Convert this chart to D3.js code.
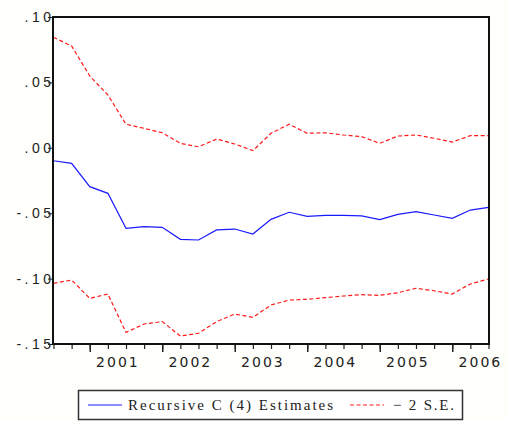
<!DOCTYPE html>
<html>
<head>
<meta charset="utf-8">
<script src="https://cdn.jsdelivr.net/npm/d3@7"></script>
<style>
  body { margin: 0; background: #fefefb; }
  svg { display: block; }
</style>
</head>
<body>
<div id="fig"></div>
<script>
// quarterly observations, 2000Q3 .. 2006Q3
var quarters = ["2000Q3","2000Q4",
  "2001Q1","2001Q2","2001Q3","2001Q4",
  "2002Q1","2002Q2","2002Q3","2002Q4",
  "2003Q1","2003Q2","2003Q3","2003Q4",
  "2004Q1","2004Q2","2004Q3","2004Q4",
  "2005Q1","2005Q2","2005Q3","2005Q4",
  "2006Q1","2006Q2","2006Q3"];

var estimate = [-0.0099, -0.0119, -0.0297, -0.0348, -0.0616, -0.0603, -0.0608, -0.0700,
  -0.0705, -0.0628, -0.0621, -0.0659, -0.0547, -0.0493, -0.0524, -0.0516, -0.0516,
  -0.0521, -0.0549, -0.0509, -0.0488, -0.0514, -0.0539, -0.0476, -0.0455];

var upper = [0.0845, 0.0778, 0.0549, 0.0404, 0.0180, 0.0149, 0.0115, 0.0034,
  0.0008, 0.0067, 0.0029, -0.0022, 0.0111, 0.0180, 0.0111, 0.0115, 0.0098,
  0.0085, 0.0034, 0.0090, 0.0098, 0.0073, 0.0044, 0.0093, 0.0093];

var lower = [-0.1036, -0.1011, -0.1151, -0.1118, -0.1411, -0.1347, -0.1329, -0.1439,
  -0.1418, -0.1329, -0.1271, -0.1296, -0.1202, -0.1164, -0.1158, -0.1146, -0.1133,
  -0.1123, -0.1128, -0.1108, -0.1074, -0.1093, -0.1118, -0.1041, -0.1003];

var yTicks = [0.10, 0.05, 0.00, -0.05, -0.10, -0.15];
var yTickLabels = [".10", ".05", ".00", "-.05", "-.10", "-.15"];
var years = ["2001", "2002", "2003", "2004", "2005", "2006"];

var width = 508, height = 421;
var plotLeft = 53, plotRight = 489, plotTop = 17, plotBottom = 344;

var svg = d3.select("#fig").append("svg")
    .attr("width", width)
    .attr("height", height)
    .attr("font-family", "DejaVu Sans, sans-serif");

var x = d3.scaleLinear()
    .domain([0, quarters.length - 1])
    .range([plotLeft + 0.5, plotRight - 0.5]);

var y = d3.scaleLinear()
    .domain([-0.15, 0.10])
    .range([plotBottom, plotTop]);

// plot area
svg.append("rect")
    .attr("x", plotLeft).attr("y", plotTop)
    .attr("width", plotRight - plotLeft).attr("height", plotBottom - plotTop)
    .attr("fill", "white");

var line = d3.line()
    .x((d, i) => x(i))
    .y(d => y(d));

svg.append("path")
    .datum(upper)
    .attr("fill", "none")
    .attr("stroke", "#ff1a1a")
    .attr("stroke-width", 1.2)
    .attr("stroke-dasharray", "4,2.5")
    .attr("d", line);

svg.append("path")
    .datum(lower)
    .attr("fill", "none")
    .attr("stroke", "#ff1a1a")
    .attr("stroke-width", 1.2)
    .attr("stroke-dasharray", "4,2.5")
    .attr("d", line);

svg.append("path")
    .datum(estimate)
    .attr("fill", "none")
    .attr("stroke", "#1a1aff")
    .attr("stroke-width", 1.2)
    .attr("d", line);

// y axis (labels run into the tick marks, as in the original)
var yAxis = svg.append("g")
    .attr("transform", `translate(${plotLeft},0)`)
    .call(d3.axisLeft(y)
        .tickValues(yTicks)
        .tickSize(5)
        .tickPadding(-6.5)
        .tickFormat((d, i) => yTickLabels[i]));
yAxis.select(".domain").remove();
yAxis.selectAll("line").attr("stroke", "#222");
yAxis.selectAll("text")
    .attr("font-size", 14)
    .attr("letter-spacing", 3.5)
    .attr("fill", "#222");

// x axis, minor (quarters) and major (first quarter of each year)
var xAxis = svg.append("g")
    .attr("transform", `translate(0,${plotBottom})`)
    .call(d3.axisBottom(x)
        .tickValues(d3.range(quarters.length))
        .tickSize(5)
        .tickFormat(""));
xAxis.select(".domain").remove();
xAxis.selectAll("line").attr("stroke", "#222").attr("stroke-width", 1.2);

var majors = quarters.map((q, i) => i).filter(i => quarters[i].endsWith("Q1"));
var xMajor = svg.append("g")
    .attr("transform", `translate(0,${plotBottom})`)
    .call(d3.axisBottom(x)
        .tickValues(majors)
        .tickSize(8)
        .tickFormat(""));
xMajor.select(".domain").remove();
xMajor.selectAll("line").attr("stroke", "#222").attr("stroke-width", 1.5);

svg.append("g")
  .selectAll("text")
  .data(years)
  .join("text")
    .attr("x", (d, i) => x(majors[i] + 1.5) + 1)
    .attr("y", 367)
    .attr("text-anchor", "middle")
    .attr("font-size", 14)
    .attr("letter-spacing", 2)
    .attr("fill", "#222")
    .text(d => d);

// frame
svg.append("rect")
    .attr("x", plotLeft).attr("y", plotTop)
    .attr("width", plotRight - plotLeft).attr("height", plotBottom - plotTop)
    .attr("fill", "none")
    .attr("stroke", "#111")
    .attr("stroke-width", 2);

// legend
var legend = svg.append("g").attr("font-family", "Liberation Serif, serif");
legend.append("rect")
    .attr("x", 78.5).attr("y", 390.5)
    .attr("width", 384).attr("height", 29)
    .attr("fill", "white")
    .attr("stroke", "#333")
    .attr("stroke-width", 1.5);

legend.append("line")
    .attr("x1", 88).attr("x2", 122)
    .attr("y1", 405).attr("y2", 405)
    .attr("stroke", "#1a1aff");
legend.append("text")
    .attr("x", 128).attr("y", 410)
    .attr("font-size", 15)
    .attr("letter-spacing", 2)
    .attr("fill", "#222")
    .text("Recursive C (4) Estimates");

legend.append("line")
    .attr("x1", 350).attr("x2", 384)
    .attr("y1", 405).attr("y2", 405)
    .attr("stroke", "#ff1a1a")
    .attr("stroke-dasharray", "4,2.5");
legend.append("text")
    .attr("x", 393).attr("y", 410)
    .attr("font-size", 15)
    .attr("letter-spacing", 1.8)
    .attr("fill", "#222")
    .text("\u2212 2 S.E.");
</script>
</body>
</html>
